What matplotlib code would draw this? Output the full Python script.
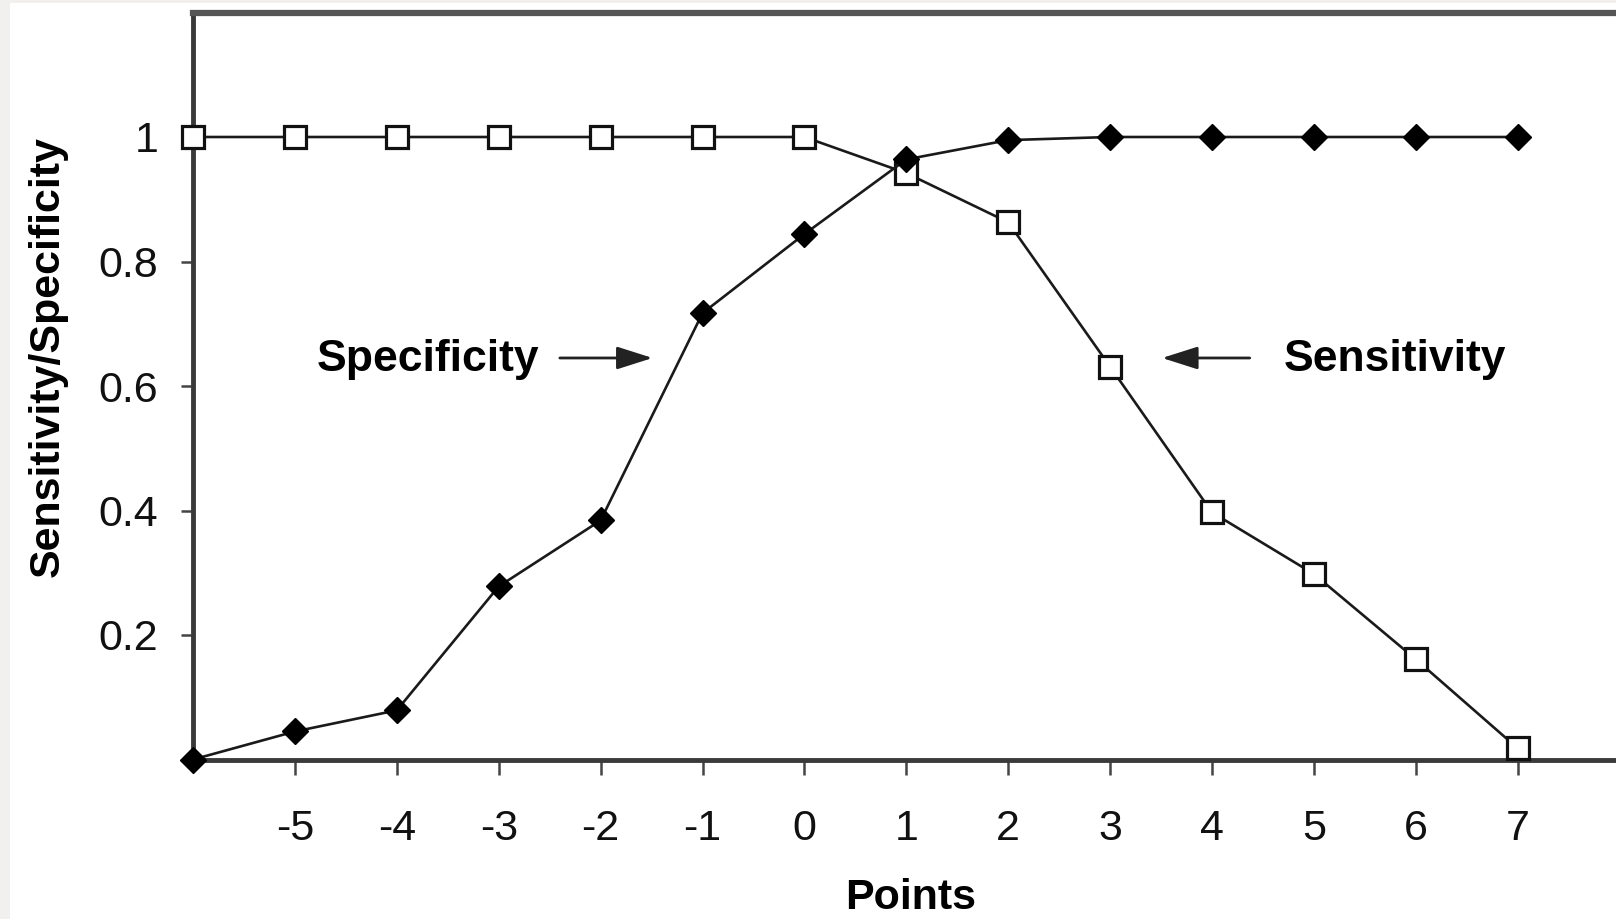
import matplotlib.pyplot as plt
from matplotlib.patches import Rectangle

points = [-6, -5, -4, -3, -2, -1, 0, 1, 2, 3, 4, 5, 6, 7]
sensitivity = [1.0, 1.0, 1.0, 1.0, 1.0, 1.0, 1.0, 0.942, 0.863, 0.631, 0.397, 0.298, 0.161, 0.018]
specificity = [0.0, 0.045, 0.079, 0.278, 0.384, 0.717, 0.844, 0.964, 0.995, 1.0, 1.0, 1.0, 1.0, 1.0]
xticks = [-5, -4, -3, -2, -1, 0, 1, 2, 3, 4, 5, 6, 7]
yticks = [0.2, 0.4, 0.6, 0.8, 1.0]
ytick_labels = ['0.2', '0.4', '0.6', '0.8', '1']

plt.rcParams['font.family'] = ['Liberation Sans', 'DejaVu Sans']

fig = plt.figure(figsize=(16.16, 9.19), dpi=100, facecolor='#f1f0ee')
# white page area inside the thin grey border
fig.patches.append(Rectangle((10/1616, 0), 1, 1 - 3/919, transform=fig.transFigure,
                             facecolor='white', edgecolor='none', zorder=-10))

ax = fig.add_axes([193/1616, 1 - 759.5/919, 1423/1616, 747/919])
ax.set_facecolor('white')

ax.plot(points, sensitivity, color='#1a1a1a', lw=1.9, marker='s', ms=16,
        mfc='white', mec='#111111', mew=2.3, clip_on=False, zorder=5)
ax.plot(points, specificity, color='#1a1a1a', lw=1.9, marker='D', ms=13,
        mfc='black', mec='black', clip_on=False, zorder=6)

ax.set_xlim(-6, -6 + 1423/101.9)
ax.set_ylim(0, 1.2)
ax.set_xticks(xticks)
ax.set_xticklabels([str(v) for v in xticks])
ax.set_yticks(yticks)
ax.set_yticklabels(ytick_labels)

ax.spines['right'].set_visible(False)
ax.spines['top'].set_linewidth(4.5)
ax.spines['top'].set_color('#555555')
for side in ('left', 'bottom'):
    ax.spines[side].set_linewidth(3.5)
    ax.spines[side].set_color('#3a3a3a')

ax.tick_params(axis='x', length=11, width=1.8, color='#444444', pad=25,
               labelsize=31, labelcolor='#111111')
ax.tick_params(axis='y', length=9, width=1.8, color='#444444', pad=16,
               labelsize=31, labelcolor='#111111')

ax.set_xlabel('Points', fontsize=31, fontweight='bold')
ax.xaxis.set_label_coords(0.504, -0.158)
ax.set_ylabel('Sensitivity/Specificity', fontsize=31, fontweight='bold')
ax.yaxis.set_label_coords(-0.088, 0.539)

# curve labels with arrows
arrow_style = dict(arrowstyle='-|>,head_length=1.1,head_width=0.35', mutation_scale=20,
                   lw=2, color='#222222', shrinkA=0, shrinkB=0)
ax.text(-3.69, 0.643, 'Specificity', fontsize=32, fontweight='bold', ha='center', va='center')
ax.annotate('', xy=(-1.49, 0.645), xytext=(-2.40, 0.645), arrowprops=arrow_style)
ax.text(5.80, 0.643, 'Sensitivity', fontsize=32, fontweight='bold', ha='center', va='center')
ax.annotate('', xy=(3.51, 0.645), xytext=(4.37, 0.645), arrowprops=arrow_style)

fig.savefig('out.png', dpi=100, facecolor=fig.get_facecolor())
